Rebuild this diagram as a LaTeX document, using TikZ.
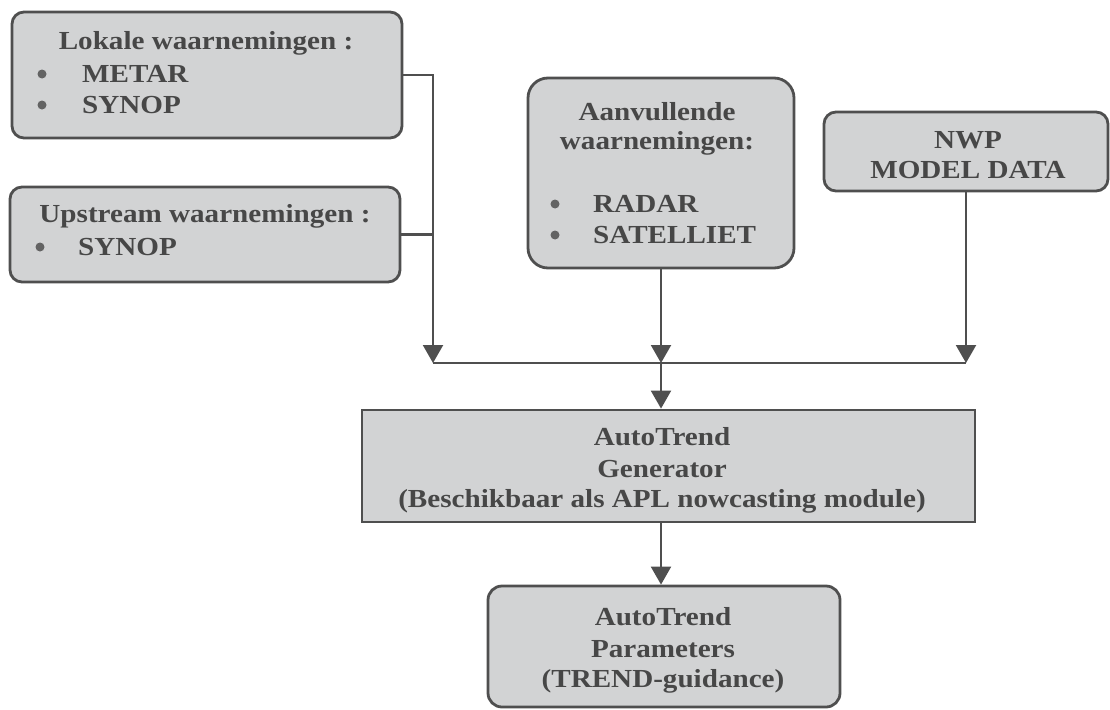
\documentclass[tikz,border=0pt]{standalone}
\usepackage{fontspec}
\setmainfont{Liberation Serif}[FakeStretch=1.12]
\usetikzlibrary{arrows.meta}
\definecolor{boxfill}{HTML}{D2D3D4}
\definecolor{boxline}{HTML}{4F4F4F}
\definecolor{txt}{HTML}{474747}
\tikzset{
  box/.style={draw=boxline, line width=2.8pt, fill=boxfill, inner sep=0pt},
  rbox/.style={box, rounded corners=12pt},
  lbl/.style={text=txt, font=\fontsize{26}{31}\selectfont\bfseries, inner sep=0pt, anchor=base},
  item/.style={lbl, anchor=base west},
  bul/.style={circle, fill=txt!85, inner sep=0pt, minimum size=9pt},
  conn/.style={draw=boxline, line width=2.2pt},
  arr/.style={conn, -{Triangle[length=18pt,width=20pt]}},
}
\begin{document}
\begin{tikzpicture}[x=1pt,y=-1pt]
\useasboundingbox (0,0) rectangle (1110,709);
% boxes
\node[rbox, minimum width=390pt, minimum height=126pt] (lok) at (207,75) {};
\node[rbox, minimum width=390pt, minimum height=95pt] (up) at (205,234.5) {};
\node[rbox, rounded corners=20pt, minimum width=266pt, minimum height=190pt] (aan) at (661,173) {};
\node[rbox, minimum width=284pt, minimum height=79pt] (nwp) at (966,151.5) {};
\node[box, minimum width=613pt, minimum height=112pt] (gen) at (668.5,466) {};
\node[rbox, rounded corners=14pt, minimum width=352pt, minimum height=121pt] (par) at (664,646.5) {};
% texts
\node[lbl] (lokt) at (206,50) {Lokale waarnemingen :};
\node[bul] (lokb1) at (42,74) {};
\node[item] (loki1) at (82,82) {METAR};
\node[bul] (lokb2) at (42,105) {};
\node[item] (loki2) at (82,113) {SYNOP};
\node[lbl] (upt) at (205,222) {Upstream waarnemingen :};
\node[bul] (upb1) at (40,247) {};
\node[item] (upi1) at (78,255) {SYNOP};
\node[lbl] (aant1) at (657,120) {Aanvullende};
\node[lbl] (aant2) at (657,149) {waarnemingen:};
\node[bul] (aanb1) at (555,204) {};
\node[item] (aani1) at (593,212) {RADAR};
\node[bul] (aanb2) at (555,235) {};
\node[item] (aani2) at (593,243) {SATELLIET};
\node[lbl] (nwpt1) at (968,148) {NWP};
\node[lbl] (nwpt2) at (968,178) {MODEL DATA};
\node[lbl] (gent1) at (662,445) {AutoTrend};
\node[lbl] (gent2) at (662,477) {Generator};
\node[lbl] (gent3) at (662,507) {(Beschikbaar als APL nowcasting module)};
\node[lbl] (part1) at (663,625) {AutoTrend};
\node[lbl] (part2) at (663,657) {Parameters};
\node[lbl] (part3) at (663,687) {(TREND-guidance)};
% connectors
\coordinate (busL) at (433,363);
\coordinate (busM) at (661,363);
\coordinate (busR) at (966,363);
\draw[arr] (lok.east) -| (busL);
\draw[conn] (up.east) -- (up.east -| busL);
\draw[arr] (aan.south) -- (busM);
\draw[arr] (nwp.south) -- (busR);
\draw[conn] (busL) -- (busR);
\draw[arr] (busM) -- (busM |- gen.north);
\draw[arr] (gen.south -| busM) -- (busM |- par.north);
\end{tikzpicture}
\end{document}
